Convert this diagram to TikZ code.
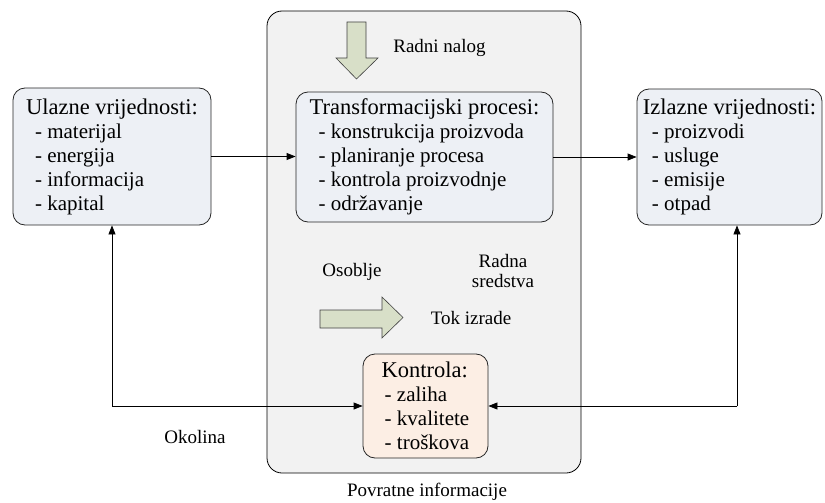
\documentclass[tikz,border=0pt]{standalone}
\usepackage{fontspec}
\setmainfont{Liberation Serif}
\usetikzlibrary{arrows.meta,positioning}
\definecolor{okvirboja}{HTML}{EDF0F5}
\definecolor{kontrolaboja}{HTML}{FCEEE4}
\definecolor{sustavboja}{HTML}{F2F2F2}
\definecolor{strelicaboja}{HTML}{D8DFC8}
\newcommand{\naslov}[1]{{\fontsize{22.5}{24}\selectfont #1}}
\newcommand{\stavka}{\hspace*{9pt}- }
\tikzset{
	okvir/.style={draw=black!85, line width=0.8pt, rounded corners=12pt, fill=okvirboja, align=left, inner sep=0pt},
	oznaka/.style={font=\fontsize{19}{22}\selectfont, align=center, inner sep=1pt},
	blokstrelica/.style={draw=black!75, line width=0.6pt, fill=strelicaboja}
}
\begin{document}
\begin{tikzpicture}[x=1pt, y=-1pt, >={Triangle[length=9pt,width=7pt]}, font=\fontsize{21}{24}\selectfont]
	\useasboundingbox (0,0) rectangle (825,503);
	% sustav
	\draw[line width=0.8pt, rounded corners=15pt, fill=sustavboja] (267,11) rectangle (581,473);
	\node[okvir, minimum width=198pt, minimum height=137pt] (ulaz) at (112,156.5) {\naslov{Ulazne vrijednosti:}\\ \stavka materijal\\ \stavka energija\\ \stavka informacija\\ \stavka kapital};
	\node[okvir, minimum width=257pt, minimum height=130pt] (proces) at (424.5,157) {\naslov{Transformacijski procesi:}\\ \stavka konstrukcija proizvoda\\ \stavka planiranje procesa\\ \stavka kontrola proizvodnje\\ \stavka održavanje};
	\node[okvir, minimum width=185pt, minimum height=136pt] (izlaz) at (729.5,157) {\naslov{Izlazne vrijednosti:}\\ \stavka proizvodi\\ \stavka usluge\\ \stavka emisije\\ \stavka otpad};
	\node[okvir, fill=kontrolaboja, minimum width=125pt, minimum height=104pt] (kontrola) at (425.5,406) {\naslov{Kontrola:}\\ \hspace*{3pt}- zaliha\\ \hspace*{3pt}- kvalitete\\ \hspace*{3pt}- troškova};
	% blok strelice
	\draw[blokstrelica] (347,22) -- (366,22) -- (366,58) -- (378,58) -- (356.5,79) -- (336,58) -- (347,58) -- cycle;
	\draw[blokstrelica] (320,310) -- (382,310) -- (382,297) -- (403,317.5) -- (382,338) -- (382,328) -- (320,328) -- cycle;
	% oznake
	\node[oznaka] (nalog) at (439.5,48) {Radni nalog};
	\node[oznaka] (osoblje) at (352,272) {Osoblje};
	\node[oznaka, text depth=0pt] (sredstva) at (503,271) {Radna\\[-2pt] sredstva};
	\node[oznaka] (tok) at (471,318) {Tok izrade};
	\node[oznaka] (okolina) at (195,437) {Okolina};
	\node[oznaka] (povratne) at (427,492) {Povratne informacije};
	% veze
	\path (112,406) coordinate (L) (737,406) coordinate (D);
	\draw[->, line width=0.8pt] (ulaz.east) -- (ulaz.east -| proces.west);
	\draw[->, line width=0.8pt] (proces.east) -- (proces.east -| izlaz.west);
	\draw[<->, line width=0.8pt] (ulaz.south) -- (L) -- (kontrola.west);
	\draw[->, line width=0.8pt] (D) -- (D |- izlaz.south);
	\draw[->, line width=0.8pt] (D) -- (kontrola.east);
\end{tikzpicture}
\end{document}
